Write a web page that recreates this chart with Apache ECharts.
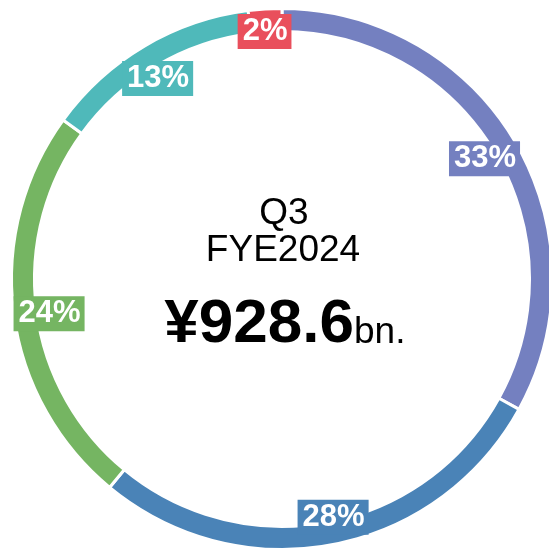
<!DOCTYPE html>
<html>
<head>
<meta charset="utf-8">
<script src="https://cdn.jsdelivr.net/npm/echarts@6/dist/echarts.min.js"></script>
<style>html,body{margin:0;padding:0;background:#fff}#c{width:549px;height:551px}</style>
</head>
<body>
<div id="c"></div>
<script>
const categories = ['A', 'B', 'C', 'D', 'E'];
const values = [33, 28, 24, 13, 2];
const colors = ['#7480c0', '#4a83b7', '#75b562', '#4fb9ba', '#e94f5c'];
const labelOffsets = [[-23, 13], [2, -19], [27, 2], [9, 25], [-1, 14]];
const centerLines = ['Q3', 'FYE2024'];
const amountText = '¥928.6';
const unitText = 'bn.';

const FONT = "'Liberation Sans', Arial, Helvetica, sans-serif";
const chart = echarts.init(document.getElementById('c'), null, {renderer: 'canvas'});

const data = categories.map((c, i) => ({
  name: c,
  value: values[i],
  itemStyle: {color: colors[i]},
  label: {backgroundColor: colors[i], offset: labelOffsets[i]}
}));

chart.setOption({
  animation: false,
  series: [{
    type: 'pie',
    center: [282, 279],
    radius: [247.5, 270.5],
    startAngle: 90,
    clockwise: true,
    silent: true,
    avoidLabelOverlap: false,
    itemStyle: {borderColor: '#fff', borderWidth: 3},
    label: {
      show: true,
      position: 'inside',
      formatter: p => p.value + '%',
      color: '#fff',
      fontFamily: FONT,
      fontWeight: 'bold',
      fontSize: 31,
      lineHeight: 30,
      padding: [3, 4, 2, 5]
    },
    labelLine: {show: false},
    data: data
  }],
  graphic: [
    {type: 'text', x: 284, y: 214, style: {text: centerLines[0], font: '37px ' + FONT, fill: '#000', align: 'center', verticalAlign: 'middle'}},
    {type: 'text', x: 283, y: 251, style: {text: centerLines[1], font: '37px ' + FONT, fill: '#000', align: 'center', verticalAlign: 'middle'}},
    {type: 'text', x: 354, y: 325, style: {text: amountText, font: 'bold 62px ' + FONT, fill: '#000', align: 'right', verticalAlign: 'middle'}},
    {type: 'text', x: 354, y: 333, style: {text: unitText, font: '37px ' + FONT, fill: '#000', align: 'left', verticalAlign: 'middle'}}
  ]
});
</script>
</body>
</html>
